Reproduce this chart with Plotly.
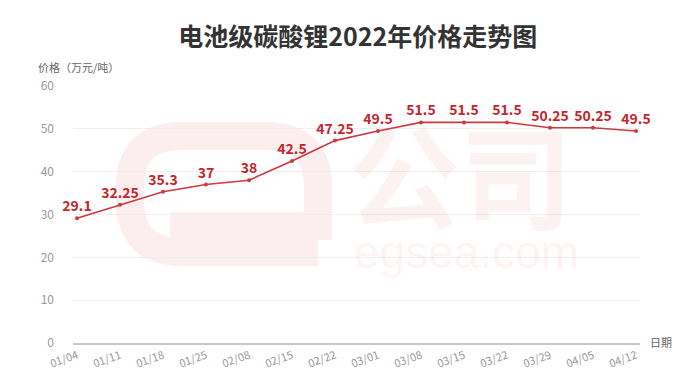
import plotly.graph_objects as go

dates = ["01/04", "01/11", "01/18", "01/25", "02/08", "02/15", "02/22",
         "03/01", "03/08", "03/15", "03/22", "03/29", "04/05", "04/12"]
prices = [29.1, 32.25, 35.3, 37, 38, 42.5, 47.25, 49.5, 51.5, 51.5, 51.5, 50.25, 50.25, 49.5]
price_labels = ["29.1", "32.25", "35.3", "37", "38", "42.5", "47.25",
                "49.5", "51.5", "51.5", "51.5", "50.25", "50.25", "49.5"]
y_ticks = [0, 10, 20, 30, 40, 50, 60]

W, H = 695, 390
ML, MR, MT, MB = 73, 55, 86, 47
PW, PH = W - ML - MR, H - MT - MB

def px(x, y):
    return (x - ML) / PW, (H - MB - y) / PH

def path(points):
    parts = []
    for cmd, pts in points:
        coords = " ".join("%.4f,%.4f" % px(*p) for p in pts)
        parts.append(cmd + " " + coords)
    return " ".join(parts)

RED = "#c4262c"
LINE = "#cc3a3e"
CJK = "Noto Sans CJK SC, Noto Sans, sans-serif"

fig = go.Figure()
fig.add_trace(go.Scatter(
    x=dates, y=prices, mode="lines+markers+text",
    line=dict(color=LINE, width=1.6),
    marker=dict(color=LINE, size=4),
    text=price_labels, textposition="top center",
    textfont=dict(color=RED, size=14, family=CJK, weight="bold"),
    cliponaxis=False, hoverinfo="skip",
))

# faint watermark logo
logo = path([
    ("M", [(318, 252)]), ("L", [(182, 252)]), ("Q", [(130, 252), (130, 200)]),
    ("L", [(130, 187)]), ("Q", [(130, 136), (182, 136)]), ("L", [(266, 136)]),
    ("Q", [(318, 136), (318, 187)]), ("L", [(318, 226)]), ("L", [(170, 226)]),
])
fig.add_shape(type="path", path=logo, xref="paper", yref="paper",
              line=dict(color="rgba(225,70,70,0.09)", width=28), layer="below")

fig.add_annotation(text="公司", x=px(460, 0)[0], y=px(0, 172)[1], xref="paper", yref="paper",
                   xanchor="center", yanchor="middle", showarrow=False,
                   font=dict(size=112, color="rgba(225,70,70,0.07)", family=CJK, weight="bold"))
fig.add_annotation(text="egsea.com", x=px(466, 0)[0], y=px(0, 252)[1], xref="paper", yref="paper",
                   xanchor="center", yanchor="middle", showarrow=False,
                   font=dict(size=46, color="rgba(225,70,70,0.07)",
                             family="Liberation Sans, Arial, sans-serif"))

fig.add_annotation(text="价格（万元/吨）", x=px(36, 0)[0], y=px(0, 67)[1], xref="paper", yref="paper",
                   xanchor="left", yanchor="middle", showarrow=False,
                   font=dict(size=11, color="#666", family=CJK))
fig.add_annotation(text="日期", x=px(648, 0)[0], y=px(0, 342)[1], xref="paper", yref="paper",
                   xanchor="left", yanchor="middle", showarrow=False,
                   font=dict(size=11, color="#666", family=CJK))

fig.update_layout(
    width=W, height=H,
    margin=dict(l=ML, r=MR, t=MT, b=MB),
    paper_bgcolor="white", plot_bgcolor="white",
    showlegend=False,
    title=dict(text="电池级碳酸锂2022年价格走势图", x=0.502, xref="paper", xanchor="center",
               y=(H - 37) / H, yref="container", yanchor="middle",
               font=dict(size=25, color="#333", family=CJK, weight="bold")),
    xaxis=dict(type="category", range=[-0.093, 13.093], showgrid=False,
               showline=True, linecolor="#c8c8c8", linewidth=2,
               ticks="", tickangle=-20, tickfont=dict(size=11, color="#999", family=CJK)),
    yaxis=dict(range=[0, 60], tickvals=y_ticks, showgrid=True, gridcolor="#eeeeee", gridwidth=1,
               zeroline=False, showline=False, ticklabelstandoff=18,
               tickfont=dict(size=12, color="#999", family=CJK)),
)

fig.write_html("out.html")
